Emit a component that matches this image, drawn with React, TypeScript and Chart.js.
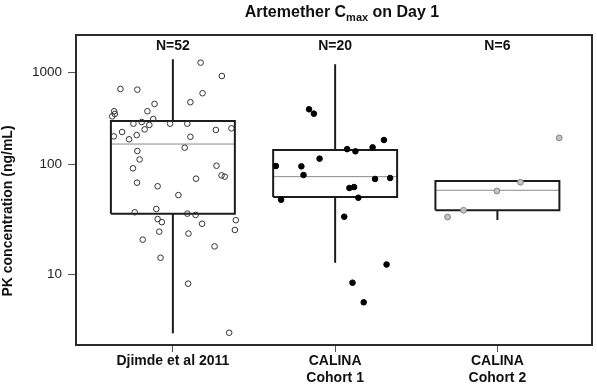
import React, { useEffect, useRef } from 'react';
import { Chart, registerables, LogarithmicScale } from 'chart.js';

// ---------------- data ----------------
const categories: string[][] = [['Djimde et al 2011'], ['CALINA', 'Cohort 1'], ['CALINA', 'Cohort 2']];
const nLabels = ['N=52', 'N=20', 'N=6'];
const yTickValues = [10, 100, 1000];

const q1 = [33.8, 48.1, 36.3];
const median = [159, 75.2, 55.7];
const q3 = [278, 138, 68.4];
const whiskerLow = [3.34, 12.5, 29.6];
const whiskerHigh = [1449, 1256, 68.4];

const djimdeValues = [1315, 902, 634, 623, 566, 428, 448, 355, 355, 331, 312, 292, 260, 271, 252, 260, 260, 232, 223, 226, 212, 191, 197, 189, 178, 146, 135, 111, 90.7, 96.2, 77.4, 75.2, 71.9, 65.8, 60.8, 50.2, 34.8, 37.3, 33.8, 32.9, 30.2, 28.3, 29.5, 27.4, 24.1, 23.3, 22.4, 19.8, 17.3, 13.8, 8.36, 3.38];
const djimdeJitter = [0.171, 0.302, -0.323, -0.219, 0.183, -0.113, 0.108, -0.362, -0.157, -0.358, -0.374, -0.121, -0.243, -0.192, -0.145, -0.017, 0.089, 0.361, 0.265, -0.174, -0.313, -0.364, -0.223, 0.108, -0.270, 0.073, -0.219, -0.205, -0.246, 0.269, 0.300, 0.320, 0.143, -0.221, -0.094, 0.034, -0.235, -0.102, 0.089, 0.140, -0.094, -0.068, 0.388, 0.180, 0.382, -0.084, 0.096, -0.186, 0.257, -0.076, 0.094, 0.347];

const cohort1Values = [373, 334, 175, 147, 141, 134, 113, 95.5, 94.8, 78, 71.4, 73.0, 58.6, 59.8, 47.4, 45.4, 31.7, 12.1, 8.52, 5.89];
const cohort1Jitter = [-0.161, -0.131, 0.301, 0.231, 0.074, 0.125, -0.096, -0.365, -0.208, -0.195, 0.246, 0.339, 0.088, 0.117, 0.143, -0.333, 0.056, 0.317, 0.107, 0.176];

const cohort2Values = [184, 66.4, 54.8, 36.3, 31.5];
const cohort2Jitter = [0.381, 0.142, -0.003, -0.209, -0.307];

// ---------------- custom warped log scale ----------------
const WA = 138.2;
const WC = 9.3;
function warp(v: number) {
  const L = Math.log10(v);
  return WA * L - WC * L * L;
}
function unwarp(g: number) {
  const L = (WA - Math.sqrt(WA * WA - 4 * WC * g)) / (2 * WC);
  return Math.pow(10, L);
}

class WarpLogScale extends LogarithmicScale {
  static id = 'warplog';
  static defaults = (LogarithmicScale as any).defaults;
  getPixelForValue(value: number) {
    const s: any = this;
    if (value === undefined || value === null || value <= 0) value = s.min;
    const g0 = warp(s.min);
    const g1 = warp(s.max);
    return s.getPixelForDecimal((warp(value) - g0) / (g1 - g0));
  }
  getValueForPixel(pixel: number) {
    const s: any = this;
    const d = s.getDecimalForPixel(pixel);
    const g0 = warp(s.min);
    const g1 = warp(s.max);
    return unwarp(g0 + d * (g1 - g0));
  }
}

Chart.register(...registerables, WarpLogScale as any);

const FONT = '"Liberation Sans", Arial, Helvetica, sans-serif';
const HALF_W = 0.382;

const textPlugin = {
  id: 'extraTexts',
  afterDatasetsDraw(chart: any) {
    const ctx = chart.ctx as CanvasRenderingContext2D;
    const { left, top, right, bottom } = chart.chartArea;
    ctx.save();
    ctx.strokeStyle = '#2b2b2b';
    ctx.lineWidth = 2;
    ctx.strokeRect(left, top, right - left, bottom - top);
    ctx.restore();
  },
  afterDraw(chart: any) {
    const ctx = chart.ctx as CanvasRenderingContext2D;
    const xs = chart.scales.x;
    ctx.save();
    ctx.fillStyle = '#111';
    // N labels
    ctx.font = `bold 14px ${FONT}`;
    ctx.textAlign = 'center';
    ctx.textBaseline = 'middle';
    nLabels.forEach((t, i) => {
      ctx.fillText(t, xs.getPixelForValue(i), 46);
    });
    // title with subscript
    const p1 = 'Artemether C';
    const p2 = 'max';
    const p3 = ' on Day 1';
    const big = `bold 16px ${FONT}`;
    const small = `bold 11px ${FONT}`;
    ctx.font = big;
    const w1 = ctx.measureText(p1).width;
    const w3 = ctx.measureText(p3).width;
    ctx.font = small;
    const w2 = ctx.measureText(p2).width;
    const total = w1 + w2 + w3;
    let x = 342 - total / 2;
    const base = 17;
    ctx.textAlign = 'left';
    ctx.textBaseline = 'alphabetic';
    ctx.font = big;
    ctx.fillText(p1, x, base);
    x += w1;
    ctx.font = small;
    ctx.fillText(p2, x, base + 4);
    x += w2;
    ctx.font = big;
    ctx.fillText(p3, x, base);
    // y axis title
    ctx.translate(8, 211);
    ctx.rotate(-Math.PI / 2);
    ctx.font = `bold 14px ${FONT}`;
    ctx.textAlign = 'center';
    ctx.textBaseline = 'middle';
    ctx.fillText('PK concentration (ng/mL)', 0, 0);
    ctx.restore();
  },
};

function lineDs(points: { x: number; y: number }[], color: string, width: number) {
  return {
    type: 'scatter' as const,
    data: points,
    showLine: true,
    borderColor: color,
    backgroundColor: color,
    borderWidth: width,
    pointRadius: 0,
    pointHoverRadius: 0,
    borderJoinStyle: 'miter' as const,
    borderCapStyle: 'butt' as const,
    tension: 0,
    order: 2,
  };
}

export default function App() {
  const ref = useRef<HTMLCanvasElement | null>(null);
  useEffect(() => {
    if (!ref.current) return;
    const datasets: any[] = [];
    const pts = (vals: number[], jit: number[], g: number) => vals.map((v, i) => ({ x: g + jit[i], y: v }));
    datasets.push({
      type: 'scatter',
      data: pts(djimdeValues, djimdeJitter, 0),
      pointRadius: 2.8,
      pointBorderWidth: 1,
      borderColor: '#333',
      backgroundColor: 'rgba(255,255,255,0)',
      order: 0,
    });
    datasets.push({
      type: 'scatter',
      data: pts(cohort1Values, cohort1Jitter, 1),
      pointRadius: 2.8,
      pointBorderWidth: 1,
      borderColor: '#000',
      backgroundColor: '#000',
      order: 0,
    });
    datasets.push({
      type: 'scatter',
      data: pts(cohort2Values, cohort2Jitter, 2),
      pointRadius: 2.9,
      pointBorderWidth: 1,
      borderColor: '#808080',
      backgroundColor: '#c4c4c4',
      order: 0,
    });
    for (let g = 0; g < 3; g++) {
      datasets.push(
        lineDs(
          [
            { x: g - HALF_W, y: q1[g] },
            { x: g + HALF_W, y: q1[g] },
            { x: g + HALF_W, y: q3[g] },
            { x: g - HALF_W, y: q3[g] },
            { x: g - HALF_W, y: q1[g] },
          ],
          '#1c1c1c',
          2
        )
      );
      datasets.push(lineDs([{ x: g, y: whiskerLow[g] }, { x: g, y: q1[g] }], '#1c1c1c', 2));
      if (whiskerHigh[g] > q3[g]) {
        datasets.push(lineDs([{ x: g, y: q3[g] }, { x: g, y: whiskerHigh[g] }], '#1c1c1c', 2));
      }
      const med = lineDs([{ x: g - HALF_W, y: median[g] }, { x: g + HALF_W, y: median[g] }], '#8a8a8a', 1);
      datasets.push(med);
    }

    const chart = new Chart(ref.current, {
      type: 'scatter',
      data: { datasets },
      options: {
        animation: false,
        responsive: false,
        layout: { padding: { left: 0, top: 35, right: 2, bottom: 0 } },
        plugins: { legend: { display: false }, tooltip: { enabled: false }, title: { display: false } },
        scales: {
          x: {
            type: 'linear',
            min: -0.597,
            max: 2.583,
            afterBuildTicks: (s: any) => {
              s.ticks = categories.map((_, i) => ({ value: i }));
            },
            afterFit: (s: any) => {
              s.height = 46;
            },
            ticks: {
              callback: (v: any) => categories[Math.round(Number(v))] as any,
              font: { family: FONT, size: 14, weight: 'bold' },
              color: '#111',
              maxRotation: 0,
              autoSkip: false,
              padding: 1,
            },
            grid: { display: true, drawOnChartArea: false, drawTicks: true, tickLength: 7, color: '#555', lineWidth: 1 },
            border: { display: false },
          },
          y: {
            type: 'warplog' as any,
            min: 2.716,
            max: 3009,
            afterBuildTicks: (s: any) => {
              s.ticks = yTickValues.map((v) => ({ value: v }));
            },
            afterFit: (s: any) => {
              s.width = 76;
            },
            ticks: {
              callback: (v: any) => String(v),
              font: { family: FONT, size: 13.5 },
              color: '#222',
              padding: 6,
              autoSkip: false,
            },
            grid: { display: true, drawOnChartArea: false, drawTicks: true, tickLength: 8, color: '#555', lineWidth: 1 },
            border: { display: false },
          } as any,
        },
      },
      plugins: [textPlugin],
    } as any);
    return () => chart.destroy();
  }, []);
  return (
    <div style={{ position: 'fixed', left: 0, top: 0, width: 597, height: 391, background: '#fff' }}>
      <canvas ref={ref} width={597} height={391} style={{ width: 597, height: 391, display: 'block' }} />
    </div>
  );
}
